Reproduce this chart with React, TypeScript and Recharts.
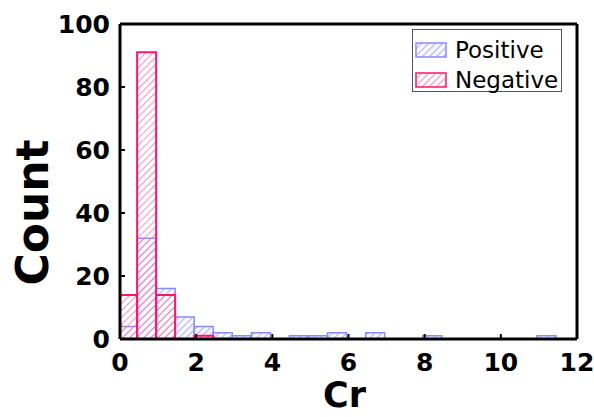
import React from 'react';
import { ComposedChart, Bar, XAxis, YAxis, ReferenceLine, Legend, Label } from 'recharts';

// histogram bins (width 0.5), centre of each bin on the Cr axis
const binCenters = [
  0.2, 0.7, 1.2, 1.7, 2.2, 2.7, 3.2, 3.7, 4.2, 4.7, 5.2, 5.7,
  6.2, 6.7, 7.2, 7.7, 8.2, 8.7, 9.2, 9.7, 10.2, 10.7, 11.2, 11.7,
];
const positiveCounts = [4, 32, 16, 7, 4, 2, 1, 2, 0, 1, 1, 2, 0, 2, 0, 0, 1, 0, 0, 0, 0, 0, 1, 0];
const negativeCounts = [14, 91, 14, 0, 1, 0, 0, 0, 0, 0, 0, 0, 0, 0, 0, 0, 0, 0, 0, 0, 0, 0, 0, 0];
const xTicks = [0, 2, 4, 6, 8, 10, 12];
const yTicks = [0, 20, 40, 60, 80, 100];
const seriesOrder = ['positive', 'negative'];

const data = binCenters.map((cr, i) => ({
  cr,
  positive: positiveCounts[i],
  negative: negativeCounts[i],
}));

const FONT = '"DejaVu Sans", sans-serif';

const styles: Record<string, { hatch: string; stroke: string; fill: string }> = {
  positive: { hatch: '#9d9dff', stroke: '#8a8aff', fill: 'url(#hatchBlue)' },
  negative: { hatch: '#ff78a6', stroke: '#ff1470', fill: 'url(#hatchRed)' },
};

const tickStyle = { fontFamily: FONT, fontSize: 25, fontWeight: 'bold', fill: '#000' };

const CountLabel = (props: any) => {
  const vb = props.viewBox || { x: 0, y: 0, width: 0, height: 0 };
  const cx = vb.x + 32;
  const cy = vb.y + vb.height / 2 + 31;
  return (
    <text
      x={cx}
      y={cy}
      transform={`rotate(-90 ${cx} ${cy})`}
      textAnchor="middle"
      dominantBaseline="central"
      style={{ fontFamily: FONT, fontSize: 44, fontWeight: 'bold', fill: '#000' }}
    >
      Count
    </text>
  );
};

const CrLabel = (props: any) => {
  const vb = props.viewBox || { x: 0, y: 0, width: 0, height: 0 };
  return (
    <text
      x={vb.x + vb.width / 2 - 4}
      y={vb.y + vb.height - 10}
      textAnchor="middle"
      style={{ fontFamily: FONT, fontSize: 35, fontWeight: 'bold', fill: '#000' }}
    >
      Cr
    </text>
  );
};

const renderLegend = (props: any) => {
  const items = [...(props.payload || [])].sort(
    (a: any, b: any) => seriesOrder.indexOf(a.dataKey) - seriesOrder.indexOf(b.dataKey)
  );
  return (
    <div
      style={{
        border: '1px solid #555',
        width: 150,
        height: 63,
        boxSizing: 'border-box',
        background: '#fff',
        paddingTop: 5,
        paddingLeft: 2,
      }}
    >
      {items.map((item: any) => {
        const s = styles[item.dataKey];
        return (
          <div key={item.dataKey} style={{ display: 'flex', alignItems: 'center', height: 30 }}>
            <svg width={32} height={16} style={{ display: 'block' }}>
              <rect x={1} y={1} width={30} height={14} fill={s.fill} stroke={s.stroke} strokeWidth={1.5} />
            </svg>
            <span style={{ fontFamily: FONT, fontSize: 23, color: '#000', marginLeft: 8, lineHeight: '30px' }}>
              {item.value}
            </span>
          </div>
        );
      })}
    </div>
  );
};

const App: React.FC = () => {
  return (
    <div style={{ position: 'absolute', left: 0, top: 0, background: '#fff' }}>
      <ComposedChart
        width={594}
        height={417}
        data={data}
        margin={{ top: 24, right: 17, left: 0, bottom: 0 }}
        barCategoryGap={0}
        barGap={0}
      >
        <defs>
          <pattern id="hatchBlue" patternUnits="userSpaceOnUse" width={5} height={5} patternTransform="rotate(45)">
            <rect width={5} height={5} fill="rgba(235,235,255,0.35)" />
            <line x1={0} y1={0} x2={0} y2={5} stroke={styles.positive.hatch} strokeWidth={1.6} />
          </pattern>
          <pattern id="hatchRed" patternUnits="userSpaceOnUse" width={5} height={5} patternTransform="rotate(45)">
            <line x1={0} y1={0} x2={0} y2={5} stroke={styles.negative.hatch} strokeWidth={1.6} />
          </pattern>
        </defs>
        <XAxis
          xAxisId="a"
          dataKey="cr"
          type="number"
          domain={[0, 12]}
          ticks={xTicks}
          allowDataOverflow
          height={78}
          axisLine={{ stroke: '#000', strokeWidth: 3 }}
          tickLine={{ stroke: '#000', strokeWidth: 2 }}
          tickSize={-5}
          tickMargin={19}
          tick={tickStyle}
        >
          <Label content={<CrLabel />} />
        </XAxis>
        <XAxis xAxisId="b" dataKey="cr" type="number" domain={[0, 12]} allowDataOverflow hide />
        <YAxis
          type="number"
          domain={[0, 100]}
          ticks={yTicks}
          width={120}
          axisLine={{ stroke: '#000', strokeWidth: 3 }}
          tickLine={{ stroke: '#000', strokeWidth: 2 }}
          tickSize={-5}
          tickMargin={15}
          tick={tickStyle}
        >
          <Label content={<CountLabel />} />
        </YAxis>
        <Bar
          xAxisId="a"
          dataKey="positive"
          name="Positive"
          fill={styles.positive.fill}
          stroke={styles.positive.stroke}
          strokeWidth={1.5}
          isAnimationActive={false}
        />
        <Bar
          xAxisId="b"
          dataKey="negative"
          name="Negative"
          fill={styles.negative.fill}
          stroke={styles.negative.stroke}
          strokeWidth={2}
          isAnimationActive={false}
        />
        <ReferenceLine xAxisId="a" y={100} stroke="#000" strokeWidth={3} />
        <ReferenceLine xAxisId="a" x={12} stroke="#000" strokeWidth={3} />
        <Legend
          layout="horizontal"
          verticalAlign="middle"
          align="center"
          content={renderLegend}
          wrapperStyle={{ position: 'absolute', left: 412, top: 29, width: 150, height: 63 }}
        />
      </ComposedChart>
    </div>
  );
};

export default App;
